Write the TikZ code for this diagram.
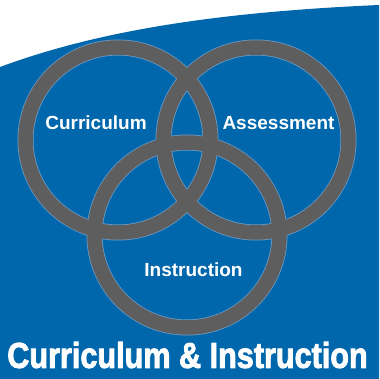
\documentclass[tikz,border=0pt]{standalone}
\usepackage{fontspec}
\setmainfont{Liberation Sans}
\newfontfamily\titlefont[FakeBold=2.5]{Liberation Sans Bold}
\usetikzlibrary{positioning}
\definecolor{bgblue}{HTML}{0067AC}
\definecolor{ringgray}{HTML}{5E5E5E}
\definecolor{ringrim}{HTML}{6F9CC6}

\begin{document}
\begin{tikzpicture}[
    x=1pt, y=-1pt,
    ringrim/.style={draw=ringrim, line width=16pt},
    ring/.style={draw=ringgray, line width=14.5pt},
    lbl/.style={text=white, font=\bfseries\fontsize{19}{19}\selectfont},
    every node/.style={inner sep=0pt}
]
    \useasboundingbox (0,0) rectangle (379,379);
    % background
    \fill[white] (0,0) rectangle (379,379);
    \fill[bgblue] (0,67) .. controls (100,30) and (220,12) .. (379,5)
        -- (379,379) -- (0,379) -- cycle;

    \coordinate (cur) at (118,140);
    \coordinate (ass) at (256,140);
    \coordinate (ins) at (187,235);

    % rings
    \foreach \c in {cur,ass,ins}
        \draw[ringrim] (\c) circle (92.5);
    \foreach \c in {cur,ass,ins}
        \draw[ring] (\c) circle (92.5);

    \node[lbl] (cur_text) at (96,123) {Curriculum};
    \node[lbl] (ass_text) at (278.5,123) {Assessment};
    \node[lbl] (ins_text) at (193.5,270) {Instruction};

    \node[text=white, font=\titlefont\fontsize{36}{36}\selectfont] (title) at (187.5,355)
        {\scalebox{0.85}[1]{Curriculum \& Instruction}};
\end{tikzpicture}
\end{document}
